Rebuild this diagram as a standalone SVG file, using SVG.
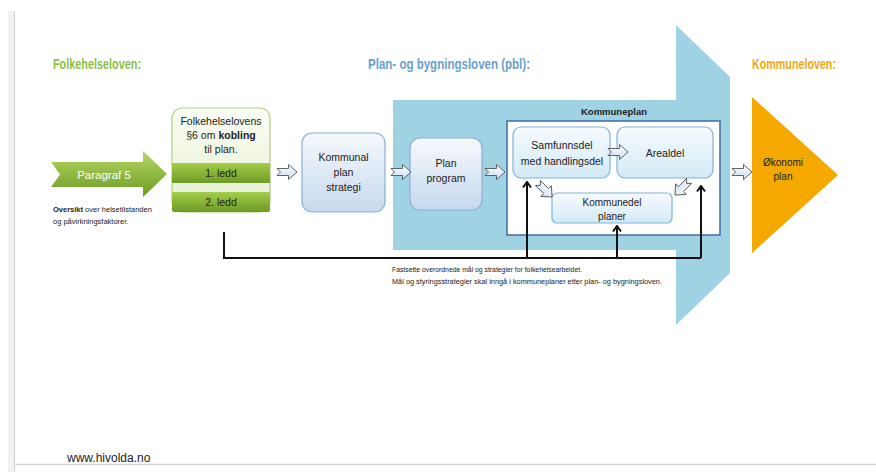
<svg xmlns="http://www.w3.org/2000/svg" width="876" height="472" viewBox="0 0 876 472">
<defs>
<style>
.t{font-family:"Liberation Sans",Arial,sans-serif;fill:#222;text-anchor:middle}
.h{font-family:"Liberation Sans",Arial,sans-serif;font-weight:bold;text-anchor:start}
.box{stroke:#8eaed3;stroke-width:1.2}
.cbox{stroke:#82b3d3;stroke-width:1.2}
.ln{fill:none;stroke:#111;stroke-width:2}
.ha{fill:url(#ha);stroke:#555;stroke-width:0.9}
.sm{font-family:"Liberation Sans",Arial,sans-serif;font-size:7.5px;fill:#222}
</style>
<linearGradient id="gArrow" x1="0" y1="0" x2="0" y2="1"><stop offset="0" stop-color="#b6d865"/><stop offset="1" stop-color="#6b9a22"/></linearGradient>
<linearGradient id="gLedd" x1="0" y1="0" x2="0" y2="1"><stop offset="0" stop-color="#a4cd48"/><stop offset="1" stop-color="#6d9b25"/></linearGradient>
<linearGradient id="gFolk" x1="0" y1="0" x2="0" y2="1"><stop offset="0" stop-color="#fbfdf5"/><stop offset="1" stop-color="#e6efd2"/></linearGradient>
<linearGradient id="gBox" x1="0" y1="0" x2="0" y2="1"><stop offset="0" stop-color="#f6f9fd"/><stop offset="1" stop-color="#c6d8ee"/></linearGradient>
<linearGradient id="gCyan" x1="0" y1="0" x2="0" y2="1"><stop offset="0" stop-color="#f7fbfe"/><stop offset="1" stop-color="#d2e9f6"/></linearGradient>
<linearGradient id="ha" x1="0" y1="0" x2="0" y2="1"><stop offset="0" stop-color="#ffffff"/><stop offset="1" stop-color="#c8dcf2"/></linearGradient>
<path id="hollow" d="M-10,-3.5 L1.5,-3.5 L1.5,-7.5 L10,0 L1.5,7.5 L1.5,3.5 L-10,3.5 L-6.5,0 Z"/>
<marker id="ah" viewBox="0 0 10 10" refX="8.5" refY="5" markerWidth="10" markerHeight="10" markerUnits="userSpaceOnUse" orient="auto">
<path d="M3,1 L8.5,5 L3,9" fill="none" stroke="#111" stroke-width="2"/>
</marker>
</defs>
<rect width="876" height="472" fill="#ffffff"/>
<g id="frame">
<rect x="8" y="11" width="7" height="461" fill="#f2f2f2"/>
<line x1="14.5" y1="11" x2="14.5" y2="472" stroke="#cfcfcf" stroke-width="1"/>
<line x1="14" y1="464.5" x2="876" y2="464.5" stroke="#d6d6d6" stroke-width="1.5"/>
<text x="67" y="462" style="font-family:'Liberation Sans',Arial,sans-serif;font-size:12px;fill:#222">www.hivolda.no</text>
</g>
<g id="titles">
<text class="h" x="53" y="69" font-size="14" fill="#8cc046" textLength="88" lengthAdjust="spacingAndGlyphs">Folkehelseloven:</text>
<text class="h" x="368" y="69" font-size="14" fill="#6a9fce" textLength="162" lengthAdjust="spacingAndGlyphs">Plan- og bygningsloven (pbl):</text>
<text class="h" x="752" y="69" font-size="14" fill="#f3a712" textLength="84" lengthAdjust="spacingAndGlyphs">Kommuneloven:</text>
</g>
<g id="pbl-arrow">
<path d="M393,100 L676,100 L676,25 L730,77 L730,273 L676,325 L676,250 L393,250 Z" fill="#9fd3e4"/>
</g>
<g id="paragraf5">
<path d="M51,162 L143,162 L143,151 L167,174 L143,197 L143,187 L51,187 L60,174.5 Z" fill="url(#gArrow)"/>
<text x="104" y="179" style="font-family:'Liberation Sans',Arial,sans-serif;font-size:11.5px;fill:#fff;text-anchor:middle">Paragraf 5</text>
<text class="sm" x="53" y="212"><tspan font-weight="bold">Oversikt</tspan> over helsetilstanden</text>
<text class="sm" x="53" y="224">og påvirkningsfaktorer.</text>
</g>
<g id="folkehelselovens">
<rect x="172" y="108" width="98" height="104" rx="10" fill="url(#gFolk)" stroke="#b5cf86" stroke-width="1.2"/>
<text class="t" x="221" y="125" font-size="10.5">Folkehelselovens</text>
<text class="t" x="221" y="139" font-size="10.5">§6 om <tspan font-weight="bold">kobling</tspan></text>
<text class="t" x="221" y="153" font-size="10.5">til plan.</text>
<rect x="172" y="163" width="98" height="20" fill="url(#gLedd)"/>
<text class="t" x="221" y="177" font-size="10.5">1. ledd</text>
<rect x="172" y="192" width="98" height="20" rx="2" fill="url(#gLedd)"/>
<text class="t" x="221" y="206" font-size="10.5">2. ledd</text>
</g>
<g id="kommunal-plan-strategi">
<rect x="302" y="133" width="83" height="79" rx="10" fill="url(#gBox)" class="box"/>
<text class="t" x="343.5" y="161" font-size="10.5">Kommunal</text>
<text class="t" x="343.5" y="176" font-size="10.5">plan</text>
<text class="t" x="343.5" y="191" font-size="10.5">strategi</text>
</g>
<g id="plan-program">
<rect x="410" y="138" width="72" height="72" rx="10" fill="url(#gBox)" class="box"/>
<text class="t" x="446" y="167" font-size="10.5">Plan</text>
<text class="t" x="446" y="182" font-size="10.5">program</text>
</g>
<g id="kommuneplan">
<text class="t" x="614" y="115" font-size="9.5" font-weight="bold" textLength="66" lengthAdjust="spacingAndGlyphs">Kommuneplan</text>
<rect x="507" y="121" width="213" height="114" fill="#ffffff" stroke="#3c6d9f" stroke-width="1.5"/>
</g>
<g id="samfunnsdel">
<rect x="513" y="127" width="97" height="51" rx="8" fill="url(#gCyan)" class="cbox"/>
<text class="t" x="562" y="149" font-size="10.5">Samfunnsdel</text>
<text class="t" x="562" y="165" font-size="10.5">med handlingsdel</text>
</g>
<g id="arealdel">
<rect x="617" y="127" width="96" height="51" rx="8" fill="url(#gCyan)" class="cbox"/>
<text class="t" x="665" y="157" font-size="10.5">Arealdel</text>
</g>
<g id="kommunedel">
<rect x="552" y="193" width="120" height="30" rx="5" fill="url(#gCyan)" class="cbox"/>
<text class="t" x="612" y="206" font-size="10">Kommunedel</text>
<text class="t" x="612" y="220" font-size="10">planer</text>
</g>
<g id="okonomiplan">
<path d="M752,97 L838,175 L752,253 Z" fill="#f5a800"/>
<text class="t" x="783" y="166" font-size="10">Økonomi</text>
<text class="t" x="783" y="180" font-size="10">plan</text>
</g>
<g id="connectors">
<use href="#hollow" class="ha" transform="translate(287,172)"/>
<use href="#hollow" class="ha" transform="translate(401,172)"/>
<use href="#hollow" class="ha" transform="translate(495,172)"/>
<use href="#hollow" class="ha" transform="translate(618,152)"/>
<use href="#hollow" class="ha" transform="translate(545,190) rotate(45)"/>
<use href="#hollow" class="ha" transform="translate(682,188) rotate(135)"/>
<use href="#hollow" class="ha" transform="translate(742,172)"/>
<polyline class="ln" points="224,232 224,258 701,258"/>
<line class="ln" x1="527" y1="258" x2="527" y2="182" marker-end="url(#ah)"/>
<line class="ln" x1="617" y1="258" x2="617" y2="226" marker-end="url(#ah)"/>
<line class="ln" x1="701" y1="258" x2="701" y2="186" marker-end="url(#ah)"/>
<text class="sm" x="392" y="272" textLength="190" lengthAdjust="spacingAndGlyphs">Fastsette overordnede mål og strategier for folkehelsearbeidet.</text>
<text class="sm" x="392" y="284" textLength="270" lengthAdjust="spacingAndGlyphs">Mål og styringsstrategier skal inngå i kommuneplaner etter plan- og bygningsloven.</text>
</g>
</svg>
